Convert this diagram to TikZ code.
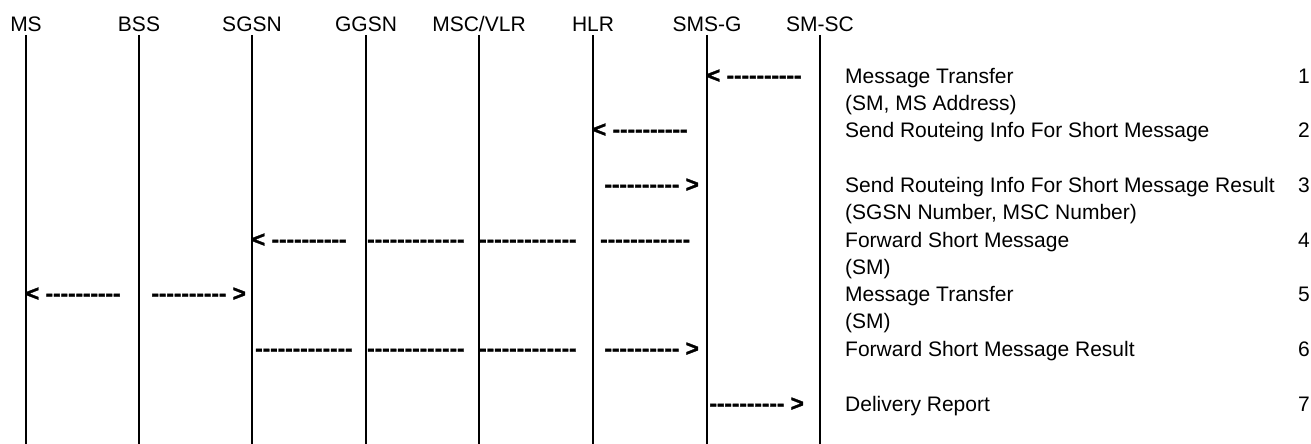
\documentclass[tikz,border=0pt]{standalone}
\usepackage{fontspec}
\setmainfont{Liberation Sans}
\newfontfamily\arrfont{Liberation Sans Bold}[FakeBold=1.5]
\newcommand\hyph[1]{\foreach\i in {1,...,#1}{\mbox{-}}}
\begin{document}
\begin{tikzpicture}[x=1pt,y=-1pt,
  lbl/.style={font=\fontsize{21}{25}\selectfont, inner sep=0pt},
  hdr/.style={lbl, anchor=base},
  msg/.style={lbl, anchor=base west},
  num/.style={lbl, anchor=base east},
  arrl/.style={font=\arrfont\fontsize{22.5}{26}\selectfont, inner sep=0pt, anchor=base west},
  arrr/.style={font=\arrfont\fontsize{22.5}{26}\selectfont, inner sep=0pt, anchor=base east},
  life/.style={line width=2pt}]
\useasboundingbox (0,0) rectangle (1311,444);
% headers and lifelines
\foreach \nm/\x/\t in {ms/26/MS, bss/139/BSS, sgsn/252/SGSN, ggsn/366/GGSN, msc/479/{MSC/VLR}, hlr/593/HLR, smsg/707/SMS-G, smsc/820/SM-SC}{
  \node[hdr] (\nm) at (\x,31.5) {\t};
  \coordinate (\nm top) at (\x,35);
  \coordinate (\nm bot) at (\x,444);
  \draw[life] (\nm top) -- (\nm bot);
}
% message texts
\node[msg] (t1) at (845,83) {Message Transfer};
\node[msg] (t1b) at (845,110) {(SM, MS Address)};
\node[msg] (t2) at (845,137) {Send Routeing Info For Short Message};
\node[msg] (t3) at (845,192) {Send Routeing Info For Short Message Result};
\node[msg] (t3b) at (845,219) {(SGSN Number, MSC Number)};
\node[msg] (t4) at (845,247) {Forward Short Message};
\node[msg] (t4b) at (845,274) {(SM)};
\node[msg] (t5) at (845,301) {Message Transfer};
\node[msg] (t5b) at (845,328) {(SM)};
\node[msg] (t6) at (845,356) {Forward Short Message Result};
\node[msg] (t7) at (845,411) {Delivery Report};
\node[num] (n1) at (1310,83) {1};
\node[num] (n2) at (1310,137) {2};
\node[num] (n3) at (1310,192) {3};
\node[num] (n4) at (1310,247) {4};
\node[num] (n5) at (1310,301) {5};
\node[num] (n6) at (1310,356) {6};
\node[num] (n7) at (1310,411) {7};
% arrows (text)
\node[arrl] (a1) at (707,83) {< \hyph{10}};
\node[arrl] (a2) at (593,137) {< \hyph{10}};
\node[arrr] (a3) at (699,192) {\hyph{10} >};
\node[arrl] (a4a) at (252,247) {< \hyph{10}};
\node[arrl] (a4b) at (367,247) {\hyph{13}};
\node[arrl] (a4c) at (479,247) {\hyph{13}};
\node[arrl] (a4d) at (600,247) {\hyph{12}};
\node[arrl] (a5a) at (26,301) {< \hyph{10}};
\node[arrr] (a5b) at (246,301) {\hyph{10} >};
\node[arrl] (a6a) at (255,356) {\hyph{13}};
\node[arrl] (a6b) at (367,356) {\hyph{13}};
\node[arrl] (a6c) at (479,356) {\hyph{13}};
\node[arrr] (a6d) at (699,356) {\hyph{10} >};
\node[arrr] (a7) at (804,411) {\hyph{10} >};
\end{tikzpicture}
\end{document}
